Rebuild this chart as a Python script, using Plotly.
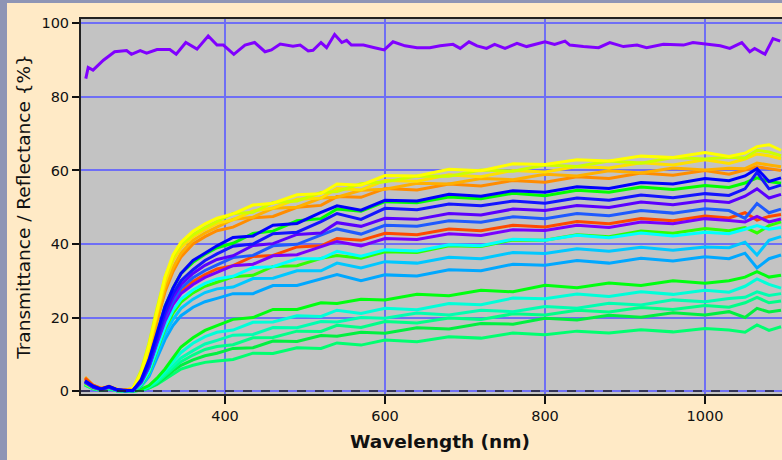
import plotly.graph_objects as go

# Common wavelength grid (nm) for the sample spectra
wavelength = [225, 235, 245, 255, 265, 275, 285, 295, 305, 315, 325, 335, 345, 360, 375, 390,
              410, 435, 460, 490, 520, 540, 570, 600, 640, 680, 720, 760, 800, 840, 880, 920,
              960, 1000, 1030, 1050, 1065, 1080, 1095]

# Reference (high) spectrum, sampled on its own grid
ref_wavelength = [226, 229, 235, 248, 262, 277, 283, 294, 302, 315, 331, 339, 351, 365, 379, 390,
                  398, 411, 425, 437, 450, 458, 469, 485, 494, 504, 510, 520, 527, 537, 546, 552,
                  558, 573, 587, 599, 610, 625, 640, 656, 669, 685, 694, 705, 715, 727, 737, 750,
                  765, 777, 800, 812, 825, 831, 848, 867, 881, 898, 915, 927, 948, 973, 985, 1002,
                  1019, 1031, 1046, 1056, 1062, 1075, 1085, 1094]
ref_values = [85.0, 88.0, 87.3, 90.0, 92.3, 92.6, 91.6, 92.6, 91.9, 92.9, 92.9, 91.6, 94.8, 93.0,
              96.6, 94.1, 94.1, 91.6, 94.1, 94.8, 92.3, 92.8, 94.4, 93.8, 94.1, 92.5, 92.7, 94.8,
              93.4, 97.0, 94.8, 95.4, 94.1, 94.1, 93.4, 92.8, 95.0, 93.9, 93.4, 93.4, 93.9, 94.3,
              93.2, 95.0, 93.9, 93.2, 94.3, 93.2, 94.6, 93.7, 95.0, 94.3, 95.2, 94.1, 93.7, 93.4,
              94.8, 93.7, 94.1, 93.4, 94.3, 94.1, 94.8, 94.3, 93.9, 93.2, 94.8, 92.3, 93.2, 91.6,
              95.9, 95.2]

s01 = [2.2, 1.0, 0.5, 1.0, 0.4, 0.2, 0.8, 5, 12.5, 22, 31, 37, 40.5, 43.5, 45.5, 47,
       48.2, 50.6, 51.1, 53.4, 53.7, 56.3, 56.0, 58.6, 58.5, 60.3, 59.9, 61.8, 61.6, 62.9, 62.6, 63.9,
       63.5, 64.9, 63.8, 64.7, 66.5, 67, 65.5]
s02 = [2.0, 0.9, 0.4, 1.1, 0.3, 0.2, 0.7, 5.5, 13, 22.5, 31, 36.5, 40, 42.5, 44.5, 46.2,
       48.3, 48.6, 51.3, 51.7, 54.0, 54.3, 56.4, 56.9, 58.5, 58.4, 60.1, 59.8, 61.5, 61.1, 62.6, 62.0,
       63.5, 63.1, 63.6, 63.4, 65.5, 65, 64]
s03 = [2.4, 1.1, 0.6, 1.2, 0.5, 0.3, 0.6, 4.5, 11.5, 21, 29.5, 35.5, 39, 42, 44, 45.6,
       46.6, 49.0, 49.8, 52.2, 52.5, 55.1, 54.7, 57.3, 57.1, 58.8, 58.3, 60.0, 59.6, 61.1, 60.7, 62.1,
       61.5, 62.9, 61.9, 63.1, 64.5, 64, 63.2]
s04 = [3.8, 1.6, 0.7, 1.3, 0.5, 0.3, 0.6, 4.2, 10.5, 19.5, 28, 33.5, 37.5, 41, 43, 44.6,
       46.7, 47.3, 49.7, 50.0, 52.5, 52.7, 54.6, 54.9, 56.5, 56.3, 57.8, 57.5, 59.0, 58.5, 59.9, 59.3,
       60.7, 60.1, 60.6, 60.5, 62, 61.5, 61]
s05 = [3.2, 1.4, 0.6, 1.1, 0.4, 0.2, 0.5, 4, 10, 19, 27, 32.5, 36.5, 40, 42, 43.6,
       44.6, 47.1, 47.5, 50.0, 50.5, 52.9, 52.7, 55.1, 54.7, 56.3, 55.8, 57.3, 56.8, 58.3, 57.8, 59.3,
       58.7, 60.0, 59.0, 60.2, 61, 60.5, 60]
s06 = [2.8, 1.4, 0.5, 1.3, 0.4, 0.1, 0.2, 3, 8.5, 16, 23, 28, 32, 35.5, 37.5, 39.5,
       41.8, 42.2, 45.1, 45.6, 48.6, 50.4, 49.2, 51.9, 51.7, 53.5, 53.0, 54.5, 54.1, 55.6, 55.1, 56.7,
       56.3, 57.8, 57.2, 58.5, 60.5, 57, 58]
s07 = [2.3, 1.0, 0.4, 1.0, 0.3, 0.1, 0.1, 2.5, 8, 15.5, 23, 28, 32, 35, 37.2, 39,
       40.2, 42.9, 43.5, 46.3, 46.9, 49.5, 48.9, 51.5, 51.2, 52.8, 52.3, 53.8, 53.1, 54.6, 54.1, 55.5,
       54.8, 55.9, 55.4, 56.6, 58, 57, 56.5]
s08 = [2.6, 1.2, 0.5, 1.2, 0.3, 0.1, 0.2, 2.6, 7.5, 14.5, 21.5, 26.5, 30, 33, 35.5, 37.3,
       39.4, 40.0, 42.8, 43.2, 46.1, 48.3, 46.7, 49.7, 49.3, 50.9, 50.4, 51.7, 51.1, 52.5, 51.9, 53.3,
       52.6, 53.7, 53.2, 55, 59.5, 55, 56]
s09 = [2.5, 1.1, 0.4, 1.1, 0.3, 0.1, 0.2, 2.4, 7, 14, 20.5, 25.5, 29, 32, 34.2, 35.8,
       36.8, 39.6, 40.1, 42.6, 43.0, 45.8, 44.8, 47.0, 46.7, 48.3, 47.9, 49.5, 49.1, 50.5, 49.9, 51.4,
       50.7, 51.8, 51.3, 53, 55, 52.5, 53.5]
s10 = [2.4, 1.0, 0.4, 1.0, 0.3, 0.1, 0.1, 2.2, 6.5, 13.5, 20, 24.5, 28, 30.8, 32.8, 34.3,
       36.3, 36.9, 39.5, 39.9, 42.3, 44.1, 42.7, 45.1, 44.8, 46.3, 45.9, 47.4, 46.9, 48.3, 47.7, 49.1,
       48.4, 49.6, 49.1, 47, 51, 48.5, 49.5]
s11 = [3.5, 1.6, 0.7, 1.2, 0.4, 0.2, 0.2, 2.5, 7, 13.5, 19.5, 24, 27, 29.8, 31.7, 33.2,
       34.1, 36.6, 36.9, 39.2, 39.5, 41.5, 41.0, 42.9, 42.5, 44.1, 43.6, 45.1, 44.6, 46.1, 45.5, 46.9,
       46.3, 47.6, 47.1, 48.5, 46.5, 47.5, 48]
s12 = [2.6, 1.2, 0.5, 1.1, 0.3, 0.1, 0.1, 2.3, 6.5, 13, 19, 23.5, 26.5, 29, 30.9, 32.3,
       34.1, 34.5, 36.8, 37.1, 39.3, 40.7, 39.5, 41.5, 41.2, 42.8, 42.3, 43.9, 43.7, 45.1, 44.5, 46.0,
       45.5, 46.9, 46.4, 46, 47.5, 46, 46.8]
s13 = [2.1, 0.9, 0.3, 0.9, 0.2, 0.0, 0.1, 1.8, 5.5, 11.5, 17.5, 22, 25, 27.5, 29.3, 30.5,
       31.2, 33.6, 33.8, 36.0, 36.0, 38.0, 36.7, 38.4, 38.1, 39.8, 39.5, 41.3, 41.0, 42.4, 41.7, 43.0,
       42.2, 43.2, 42.8, 44, 45, 44, 44.5]
s14 = [2.0, 0.9, 0.3, 0.9, 0.2, 0.0, 0.1, 1.6, 5, 11, 17, 21.2, 24.2, 26.7, 28.5, 29.6,
       31.1, 31.5, 33.9, 34.1, 36.1, 36.9, 36.1, 37.9, 37.7, 39.5, 39.3, 41.1, 41.0, 42.5, 42.0, 43.5,
       42.9, 44.2, 43.6, 44.5, 43, 45, 46]
s15 = [2.2, 1.0, 0.4, 1.0, 0.3, 0.1, 0.1, 1.5, 4.5, 10, 15.5, 19.5, 22.5, 25, 26.8, 27.8,
       28.3, 30.6, 30.7, 32.7, 32.7, 34.8, 33.5, 35.2, 34.8, 36.4, 36.0, 37.7, 37.4, 38.7, 38.0, 39.1,
       38.3, 39.2, 39.0, 40.5, 37, 41, 42]
s16 = [2.1, 0.9, 0.4, 0.9, 0.2, 0.0, 0.1, 1.3, 4, 9, 14, 17.8, 20.5, 22.8, 24.3, 25.2,
       26.5, 26.5, 28.7, 28.7, 30.5, 31.7, 30.0, 31.6, 31.3, 33.0, 32.7, 34.5, 34.2, 35.5, 34.8, 36.1,
       35.4, 36.5, 36.0, 37.5, 33.5, 36, 37]
s17 = [2.0, 0.9, 0.3, 0.8, 0.2, 0.0, 0.0, 0.5, 1.5, 3.5, 6, 9, 12, 14.5, 16.5, 17.8,
       19.5, 20.0, 22.2, 22.2, 24.0, 23.8, 25.0, 24.8, 26.3, 25.9, 27.4, 27.0, 28.8, 28.1, 29.4, 28.7,
       30.0, 29.3, 30.0, 31, 32.5, 31, 31.5]
s18 = [1.9, 0.8, 0.3, 0.8, 0.2, 0.0, 0.0, 0.4, 1.3, 3, 5.5, 8, 10.5, 13, 14.8, 16,
       16.6, 18.7, 18.8, 20.5, 20.3, 22.0, 21.1, 22.5, 22.1, 23.8, 23.5, 25.3, 25.1, 26.4, 25.7, 27.0,
       26.3, 27.4, 26.9, 28.5, 30.5, 29, 28]
s19 = [1.8, 0.8, 0.2, 0.7, 0.1, 0.0, 0.0, 0.3, 1.1, 2.6, 4.8, 7, 9, 11, 12.8, 13.8,
       15.2, 15.4, 17.3, 17.2, 18.9, 18.8, 20.0, 19.8, 21.2, 20.7, 22.0, 21.6, 23.0, 22.5, 23.9, 23.4,
       24.8, 24.3, 25.2, 25.5, 27, 26, 26.5]
s20 = [1.8, 0.7, 0.2, 0.7, 0.1, 0.0, 0.0, 0.3, 1, 2.3, 4.2, 6.2, 8, 9.8, 11.3, 12.1,
       12.6, 14.5, 14.6, 16.3, 16.2, 17.9, 17.3, 18.9, 18.5, 19.9, 19.5, 21.0, 20.7, 22.0, 21.5, 22.7,
       22.2, 23.3, 22.8, 24, 25.5, 24, 24.5]
s21 = [1.7, 0.7, 0.2, 0.7, 0.1, 0.0, 0.0, 0.2, 0.9, 2, 3.8, 5.5, 7, 8.5, 9.6, 10.3,
       11.6, 11.8, 13.6, 13.5, 15.1, 14.9, 16.0, 15.7, 17.2, 16.9, 18.4, 18.2, 19.8, 19.3, 20.6, 20.1,
       21.3, 20.7, 21.6, 20, 22.5, 21.5, 22]
s22 = [1.6, 0.6, 0.2, 0.6, 0.1, 0.0, 0.0, 0.2, 0.8, 1.8, 3.2, 4.7, 6, 7, 7.8, 8.2,
       8.6, 10.3, 10.2, 11.8, 11.6, 13.1, 12.5, 13.9, 13.4, 14.8, 14.4, 15.8, 15.3, 16.3, 15.8, 16.7,
       16.1, 17.0, 16.6, 16, 18, 16.5, 17.5]

# (series, colour) in drawing order: low group first, blue group on top
spectra = [
    (s22, "#00FF70"), (s21, "#00F040"), (s20, "#00FF88"), (s19, "#00FFB0"),
    (s18, "#00FFD8"), (s17, "#00FF10"),
    (s16, "#00A8FF"), (s15, "#00C8FF"), (s14, "#30FF00"), (s13, "#00FFFF"),
    (s05, "#FF8C00"), (s04, "#FFB000"), (s03, "#FFE000"), (s02, "#CCFF00"), (s01, "#FFFF00"),
    (s07, "#00FF00"), (s11, "#FF4A00"),
    (s12, "#7800FF"), (s10, "#1E5AFF"), (s09, "#5A00FF"), (s08, "#1414FF"), (s06, "#0000FF"),
]

fig = go.Figure()
for values, colour in spectra:
    fig.add_trace(go.Scatter(x=wavelength, y=values, mode="lines",
                             line=dict(color=colour, width=3), showlegend=False,
                             hoverinfo="skip"))
fig.add_trace(go.Scatter(x=ref_wavelength, y=ref_values, mode="lines",
                         line=dict(color="#8000FF", width=3), showlegend=False,
                         hoverinfo="skip"))

W, H = 782, 460
ml, mr, mt, mb = 81, 0, 19, 66
pw, ph = W - ml - mr, H - mt - mb

axis_font = dict(family="DejaVu Sans", size=14.5, color="#111111")
fig.update_layout(
    width=W, height=H,
    margin=dict(l=ml, r=mr, t=mt, b=mb),
    paper_bgcolor="#FFEAC6",
    plot_bgcolor="#C3C3C3",
    font=axis_font,
    xaxis=dict(range=[220, 1096.25], tickvals=[400, 600, 800, 1000],
               showgrid=True, gridcolor="#6E6EF5", gridwidth=1.5, zeroline=False,
               showline=True, linecolor="#222222", linewidth=2, mirror=True,
               ticks="outside", ticklen=8, tickwidth=1.5, tickcolor="#111111",
               tickfont=axis_font),
    yaxis=dict(range=[-0.8, 101.2], tickvals=[0, 20, 40, 60, 80, 100],
               showgrid=True, gridcolor="#6E6EF5", gridwidth=1.5, zeroline=False,
               showline=True, linecolor="#222222", linewidth=2,
               ticks="outside", ticklen=7, tickwidth=1.5, tickcolor="#111111",
               tickfont=axis_font,
               title=dict(text="Transmittance / Reflectance {%}", standoff=6,
                          font=dict(family="DejaVu Sans", size=18.5, color="#111111"))),
    annotations=[
        dict(text="<b>Wavelength (nm)</b>", xref="paper", yref="paper",
             x=(440 - ml) / pw, y=-(441 - (H - mb)) / ph, xanchor="center", yanchor="middle",
             showarrow=False, font=dict(family="DejaVu Sans", size=18.5, color="#111111")),
    ],
    shapes=[
        # dashed baseline at zero
        dict(type="line", xref="paper", yref="y", x0=0, x1=1, y0=0, y1=0,
             line=dict(color="#222222", width=1.5, dash="dash"), layer="above"),
        # window frame strips along the left and top edges
        dict(type="rect", xref="paper", yref="paper",
             x0=-ml / pw, x1=(7 - ml) / pw, y0=-mb / ph, y1=1 + mt / ph,
             line=dict(width=0), fillcolor="#8E95B5", layer="above"),
        dict(type="rect", xref="paper", yref="paper",
             x0=-ml / pw, x1=1, y0=1 + (mt - 3) / ph, y1=1 + mt / ph,
             line=dict(width=0), fillcolor="#8E95B5", layer="above"),
    ],
)

fig.write_html("out.html")
